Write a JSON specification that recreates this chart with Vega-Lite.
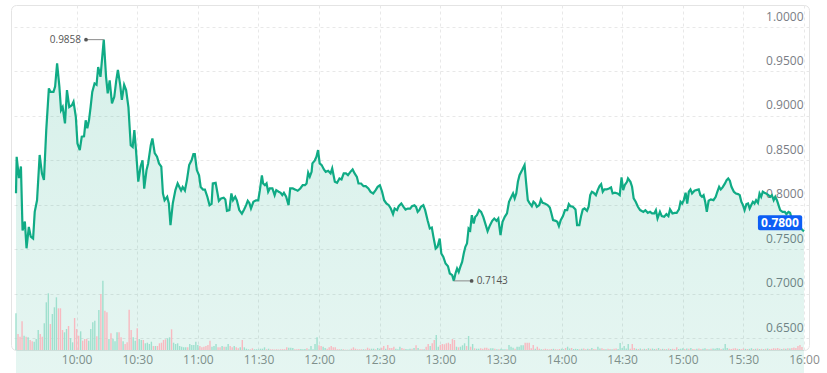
{
"$schema": "https://vega.github.io/schema/vega-lite/v6.json",
"width": 798, "height": 345,
"autosize": {"type": "none"},
"padding": {"left": 11, "top": 5, "right": 18, "bottom": 23},
"background": "white",
"config": {"font": "Open Sans", "view": {"stroke": "#e4e4e4", "cornerRadius": 5, "strokeWidth": 1}},
"datasets": {
"price": [
{"m":0,"p":0.813},{"m":0.33,"p":0.854},{"m":1.46,"p":0.830},{"m":2.44,"p":0.843},{"m":3.25,"p":0.771},{"m":4.39,"p":0.781},{"m":5.21,"p":0.751},{"m":6.34,"p":0.775},{"m":7.32,"p":0.764},{"m":8.46,"p":0.762},{"m":9.27,"p":0.792},{"m":10.41,"p":0.805},{"m":11.71,"p":0.856},{"m":12.85,"p":0.835},{"m":13.83,"p":0.828},{"m":14.97,"p":0.884},{"m":16.27,"p":0.931},{"m":17.08,"p":0.927},{"m":18.55,"p":0.927},{"m":19.36,"p":0.933},{"m":20.34,"p":0.959},{"m":21.47,"p":0.933},{"m":22.29,"p":0.9065},{"m":23.1,"p":0.910},{"m":24.24,"p":0.8915},{"m":25.22,"p":0.929},{"m":26.35,"p":0.910},{"m":27.66,"p":0.912},{"m":28.47,"p":0.916},{"m":29.61,"p":0.899},{"m":30.42,"p":0.869},{"m":31.56,"p":0.8615},{"m":32.54,"p":0.8765},{"m":33.68,"p":0.877},{"m":34.49,"p":0.895},{"m":35.3,"p":0.886},{"m":36.12,"p":0.895},{"m":36.93,"p":0.910},{"m":37.75,"p":0.927},{"m":38.88,"p":0.9365},{"m":39.86,"p":0.935},{"m":40.67,"p":0.955},{"m":41.81,"p":0.944},{"m":43.44,"p":0.9858},{"m":44.57,"p":0.944},{"m":45.39,"p":0.9253},{"m":46.36,"p":0.940},{"m":47.5,"p":0.914},{"m":48.64,"p":0.9215},{"m":49.62,"p":0.940},{"m":50.43,"p":0.9516},{"m":51.57,"p":0.935},{"m":52.38,"p":0.918},{"m":53.52,"p":0.935},{"m":54.5,"p":0.929},{"m":55.64,"p":0.910},{"m":56.78,"p":0.867},{"m":57.75,"p":0.865},{"m":58.57,"p":0.884},{"m":59.38,"p":0.8615},{"m":60.52,"p":0.826},{"m":61.66,"p":0.843},{"m":62.63,"p":0.850},{"m":63.45,"p":0.818},{"m":64.59,"p":0.839},{"m":65.4,"p":0.8465},{"m":66.7,"p":0.867},{"m":67.51,"p":0.8746},{"m":68.65,"p":0.858},{"m":69.79,"p":0.854},{"m":70.77,"p":0.8465},{"m":71.91,"p":0.843},{"m":72.72,"p":0.8127},{"m":73.53,"p":0.805},{"m":74.83,"p":0.809},{"m":75.65,"p":0.8015},{"m":76.46,"p":0.777},{"m":77.6,"p":0.8015},{"m":78.9,"p":0.8165},{"m":80.0,"p":0.824},
{"m":81.7,"p":0.816},{"m":82.5,"p":0.820},{"m":83.6,"p":0.816},{"m":84.6,"p":0.8277},{"m":85.7,"p":0.8446},{"m":86.9,"p":0.850},{"m":87.8,"p":0.857},{"m":88.5,"p":0.857},{"m":89.5,"p":0.839},{"m":90.6,"p":0.833},{"m":91.4,"p":0.820},{"m":92.6,"p":0.817},{"m":93.5,"p":0.817},{"m":94.7,"p":0.809},{"m":95.8,"p":0.7995},{"m":96.8,"p":0.801},{"m":97.4,"p":0.824},{"m":98.8,"p":0.8247},{"m":99.6,"p":0.8146},{"m":100.4,"p":0.8044},{"m":101.5,"p":0.807},{"m":102.8,"p":0.8078},{"m":103.6,"p":0.806},{"m":104.4,"p":0.7932},{"m":105.6,"p":0.794},{"m":106.6,"p":0.8127},{"m":107.4,"p":0.805},{"m":108.5,"p":0.809},{"m":109.3,"p":0.805},{"m":110.5,"p":0.794},{"m":111.8,"p":0.790},{"m":112.9,"p":0.7947},{"m":113.9,"p":0.7995},{"m":114.7,"p":0.8044},{"m":115.5,"p":0.802},{"m":116.3,"p":0.7958},{"m":117.5,"p":0.8033},{"m":118.8,"p":0.805},{"m":119.9,"p":0.805},{"m":120.7,"p":0.8164},{"m":121.7,"p":0.833},{"m":122.3,"p":0.824},{"m":123.2,"p":0.822},{"m":124.0,"p":0.824},{"m":124.8,"p":0.8146},{"m":125.6,"p":0.8183},{"m":126.9,"p":0.8183},{"m":128.0,"p":0.8108},{"m":128.8,"p":0.8164},{"m":130.0,"p":0.8146},{"m":131.0,"p":0.8134},{"m":131.8,"p":0.8108},{"m":132.6,"p":0.8134},{"m":133.7,"p":0.809},{"m":134.9,"p":0.7995},{"m":135.7,"p":0.8183},{"m":137.0,"p":0.8183},{"m":138.3,"p":0.817},{"m":139.4,"p":0.8157},{"m":140.7,"p":0.8183},{"m":141.9,"p":0.822},{"m":143.0,"p":0.822},{"m":143.8,"p":0.824},{"m":144.6,"p":0.836},{"m":145.4,"p":0.8315},{"m":146.3,"p":0.837},{"m":146.7,"p":0.8465},{"m":147.9,"p":0.850},{"m":148.7,"p":0.854},{"m":149.5,"p":0.8615},{"m":150.3,"p":0.8465},{"m":151.3,"p":0.8446},{"m":152.4,"p":0.8397},
{"m":153.3,"p":0.837},{"m":154.5,"p":0.8382},{"m":155.7,"p":0.8352},{"m":156.5,"p":0.8408},{"m":157.8,"p":0.8258},{"m":158.9,"p":0.8247},{"m":160.1,"p":0.8295},{"m":161.1,"p":0.8284},{"m":162.2,"p":0.8352},{"m":163.3,"p":0.8352},{"m":164.3,"p":0.8333},{"m":165.5,"p":0.837},{"m":166.6,"p":0.8397},{"m":167.6,"p":0.8352},{"m":168.7,"p":0.8314},{"m":169.5,"p":0.8239},{"m":170.8,"p":0.8239},{"m":172.0,"p":0.8209},{"m":173.1,"p":0.8209},{"m":174.4,"p":0.8183},{"m":175.5,"p":0.8145},{"m":176.8,"p":0.8127},{"m":178.0,"p":0.8164},{"m":179.0,"p":0.8201},{"m":180.1,"p":0.822},{"m":181.2,"p":0.8145},{"m":182.2,"p":0.8051},{"m":183.3,"p":0.8014},{"m":184.5,"p":0.7995},{"m":185.5,"p":0.7957},{"m":186.6,"p":0.7894},{"m":187.4,"p":0.7957},{"m":188.6,"p":0.7939},{"m":189.4,"p":0.7984},{"m":190.7,"p":0.8014},{"m":191.8,"p":0.7976},{"m":192.8,"p":0.7946},{"m":193.9,"p":0.7957},{"m":195.1,"p":0.7957},{"m":196.0,"p":0.7984},{"m":197.2,"p":0.7995},{"m":198.0,"p":0.7976},{"m":198.8,"p":0.792},{"m":199.6,"p":0.7939},{"m":200.4,"p":0.7976},{"m":201.6,"p":0.7995},{"m":202.5,"p":0.7939},{"m":203.7,"p":0.7826},{"m":204.8,"p":0.7732},{"m":205.8,"p":0.7743},{"m":206.6,"p":0.7638},{"m":207.7,"p":0.7507},{"m":208.6,"p":0.7526},{"m":209.7,"p":0.762},{"m":210.5,"p":0.7451},{"m":211.5,"p":0.7413},{"m":212.6,"p":0.7338},{"m":213.8,"p":0.7308},{"m":214.7,"p":0.7226},{"m":215.9,"p":0.7207},{"m":216.7,"p":0.7143},{"m":217.5,"p":0.7226},{"m":218.3,"p":0.7282},{"m":219.1,"p":0.7244},{"m":219.9,"p":0.7301},{"m":220.8,"p":0.7357},{"m":221.6,"p":0.7451},{"m":222.4,"p":0.7526},{"m":223.2,"p":0.7563},{"m":224.0,"p":0.7732},{"m":224.8,"p":0.7713},{"m":225.6,"p":0.7882},{"m":226.5,"p":0.7788},{"m":227.3,"p":0.7864},{"m":228.1,"p":0.7882},{"m":229.2,"p":0.7939},{"m":230.2,"p":0.792},{"m":231.3,"p":0.786},{"m":232.5,"p":0.777},{"m":233.4,"p":0.7703},{"m":234.6,"p":0.777},{"m":235.7,"p":0.7819},{"m":236.7,"p":0.7845},{"m":237.8,"p":0.7819},{"m":238.7,"p":0.7845},{"m":239.8,"p":0.7658},{"m":240.8,"p":0.7808},{"m":241.9,"p":0.7864},{"m":243.0,"p":0.7902},{"m":244.0,"p":0.8033},{"m":245.2,"p":0.809},{"m":246.0,"p":0.8127},{"m":246.8,"p":0.8071},{"m":247.6,"p":0.8127},{"m":248.4,"p":0.8258},{"m":249.2,"p":0.8333},{"m":250.5,"p":0.839},{"m":251.7,"p":0.8446},{"m":252.5,"p":0.824},{"m":253.3,"p":0.8052},{"m":254.1,"p":0.8022},{"m":255.3,"p":0.7984},{"m":256.1,"p":0.8033},{"m":257.0,"p":0.8014},{"m":257.8,"p":0.7977},{"m":259.0,"p":0.7996},{"m":259.8,"p":0.8059},{"m":260.6,"p":0.8022},{"m":261.7,"p":0.8014},{"m":263.1,"p":0.7996},{"m":264.2,"p":0.7969},{"m":265.0,"p":0.7902},{"m":265.8,"p":0.7827},{"m":267.1,"p":0.7819},{"m":267.9,"p":0.7808},{"m":268.7,"p":0.7759},{"m":269.6,"p":0.7827},{"m":270.7,"p":0.7872},{"m":271.7,"p":0.794},{"m":272.8,"p":0.794},{"m":273.6,"p":0.8007},{"m":274.4,"p":0.7984},{"m":275.6,"p":0.7977},{"m":276.9,"p":0.7947},{"m":277.7,"p":0.777},{"m":278.8,"p":0.777},{"m":279.6,"p":0.7864},{"m":280.5,"p":0.7947},{"m":281.4,"p":0.7958},{"m":282.6,"p":0.7932},{"m":283.4,"p":0.7977},{"m":284.2,"p":0.8108},{"m":285.0,"p":0.8146},{"m":285.8,"p":0.8135},{"m":287.0,"p":0.8108},{"m":287.9,"p":0.8165},{"m":288.8,"p":0.821},{"m":289.6,"p":0.8232},{"m":290.4,"p":0.8146},{"m":291.2,"p":0.8172},{"m":292.3,"p":0.8172},{"m":293.5,"p":0.8183},{"m":294.5,"p":0.8195},{"m":295.3,"p":0.8127},{"m":296.4,"p":0.8135},{"m":297.7,"p":0.8127},{"m":298.8,"p":0.8108},{"m":299.7,"p":0.8307},{"m":300.5,"p":0.8165},{"m":301.3,"p":0.8221},{"m":302.4,"p":0.8258},{"m":302.9,"p":0.8296},{"m":304.1,"p":0.8258},{"m":304.9,"p":0.8202},{"m":305.7,"p":0.8071},{"m":306.7,"p":0.8033},{"m":307.8,"p":0.7977},{"m":308.9,"p":0.794},
{"m":310.5,"p":0.792},{"m":311.5,"p":0.7939},{"m":312.7,"p":0.7909},{"m":313.8,"p":0.792},{"m":314.8,"p":0.7902},{"m":315.9,"p":0.7902},{"m":316.7,"p":0.7939},{"m":317.5,"p":0.7845},{"m":318.7,"p":0.792},{"m":319.6,"p":0.7872},{"m":320.8,"p":0.7864},{"m":321.9,"p":0.7894},{"m":322.9,"p":0.7872},{"m":323.7,"p":0.7947},{"m":324.9,"p":0.7902},{"m":326.0,"p":0.7909},{"m":327.0,"p":0.7909},{"m":328.1,"p":0.7947},{"m":328.9,"p":0.8033},{"m":329.7,"p":0.8014},{"m":330.5,"p":0.8052},{"m":331.4,"p":0.8135},{"m":332.2,"p":0.8014},{"m":333.0,"p":0.8146},{"m":333.8,"p":0.8172},{"m":334.6,"p":0.8127},{"m":335.8,"p":0.8157},{"m":336.7,"p":0.8165},{"m":337.9,"p":0.8172},{"m":338.7,"p":0.8108},{"m":339.5,"p":0.809},{"m":340.3,"p":0.8108},{"m":341.1,"p":0.8033},{"m":341.9,"p":0.792},{"m":342.8,"p":0.8045},{"m":343.9,"p":0.806},{"m":345.2,"p":0.8052},{"m":346.3,"p":0.809},{"m":347.1,"p":0.8146},{"m":348.0,"p":0.8202},{"m":348.8,"p":0.8172},{"m":349.7,"p":0.8195},{"m":350.9,"p":0.824},{"m":351.7,"p":0.8277},{"m":352.5,"p":0.8296},{"m":353.3,"p":0.827},{"m":354.1,"p":0.8202},{"m":355.3,"p":0.8146},{"m":356.3,"p":0.8127},{"m":357.4,"p":0.812},{"m":358.2,"p":0.8108},{"m":359.0,"p":0.8033},{"m":359.8,"p":0.7996},{"m":360.6,"p":0.7939},{"m":361.5,"p":0.8007},{"m":362.3,"p":0.8014},{"m":363.1,"p":0.7958},{"m":363.9,"p":0.7996},{"m":364.7,"p":0.8033},{"m":365.5,"p":0.8014},{"m":366.3,"p":0.8052},{"m":367.2,"p":0.8022},{"m":368.0,"p":0.8127},{"m":368.8,"p":0.809},{"m":369.6,"p":0.8146},{"m":370.4,"p":0.8135},{"m":371.2,"p":0.8127},{"m":372.4,"p":0.8108},{"m":373.3,"p":0.809},{"m":374.1,"p":0.8108},{"m":375.0,"p":0.8052},{"m":375.8,"p":0.809},{"m":376.6,"p":0.8052},{"m":377.4,"p":0.7996},{"m":378.2,"p":0.7939},{"m":379.4,"p":0.792},{"m":380.5,"p":0.792},{"m":381.3,"p":0.7894},{"m":382.3,"p":0.792},{"m":383.1,"p":0.7909},{"m":383.9,"p":0.7845},{"m":385.0,"p":0.782},{"m":386.5,"p":0.779},{"m":388.0,"p":0.775},{"m":389.0,"p":0.772},{"m":390.0,"p":0.770}
],
"volume": [
{"m":0,"v":367,"d":"up"},{"m":1,"v":160,"d":"down"},{"m":2,"v":133,"d":"down"},{"m":3,"v":287,"d":"down"},{"m":4,"v":143,"d":"up"},{"m":5,"v":133,"d":"down"},{"m":6,"v":127,"d":"up"},{"m":7,"v":100,"d":"down"},{"m":8,"v":87,"d":"down"},{"m":9,"v":83,"d":"up"},{"m":10,"v":110,"d":"up"},{"m":11,"v":200,"d":"up"},{"m":12,"v":160,"d":"down"},{"m":13,"v":133,"d":"down"},{"m":14,"v":267,"d":"up"},{"m":15,"v":477,"d":"up"},{"m":16,"v":567,"d":"up"},{"m":17,"v":260,"d":"down"},{"m":18,"v":360,"d":"up"},{"m":19,"v":427,"d":"up"},{"m":20,"v":527,"d":"up"},{"m":21,"v":417,"d":"down"},{"m":22,"v":417,"d":"down"},{"m":23,"v":200,"d":"down"},{"m":24,"v":177,"d":"up"},{"m":25,"v":210,"d":"up"},{"m":26,"v":240,"d":"down"},{"m":27,"v":120,"d":"up"},{"m":28,"v":77,"d":"up"},{"m":29,"v":320,"d":"down"},{"m":30,"v":210,"d":"down"},{"m":31,"v":143,"d":"down"},{"m":32,"v":187,"d":"up"},{"m":33,"v":93,"d":"down"},{"m":34,"v":110,"d":"down"},{"m":35,"v":110,"d":"down"},{"m":36,"v":93,"d":"up"},{"m":37,"v":210,"d":"up"},{"m":38,"v":277,"d":"up"},{"m":39,"v":293,"d":"up"},{"m":40,"v":137,"d":"down"},{"m":41,"v":400,"d":"up"},{"m":42,"v":560,"d":"down"},{"m":43,"v":693,"d":"up"},{"m":44,"v":393,"d":"down"},{"m":45,"v":377,"d":"down"},{"m":46,"v":110,"d":"up"},{"m":47,"v":167,"d":"down"},{"m":48,"v":110,"d":"up"},{"m":49,"v":87,"d":"up"},{"m":50,"v":177,"d":"up"},{"m":51,"v":177,"d":"down"},{"m":52,"v":127,"d":"down"},{"m":53,"v":87,"d":"up"},{"m":54,"v":60,"d":"down"},{"m":55,"v":77,"d":"down"},{"m":56,"v":403,"d":"down"},{"m":57,"v":200,"d":"down"},{"m":58,"v":127,"d":"up"},{"m":59,"v":93,"d":"up"},{"m":60,"v":217,"d":"down"},{"m":61,"v":110,"d":"up"},{"m":62,"v":100,"d":"up"},{"m":63,"v":100,"d":"down"},{"m":64,"v":67,"d":"up"},{"m":65,"v":73,"d":"up"},{"m":66,"v":60,"d":"up"},{"m":67,"v":83,"d":"up"},{"m":68,"v":40,"d":"down"},{"m":69,"v":40,"d":"up"},{"m":70,"v":40,"d":"down"},{"m":71,"v":67,"d":"down"},{"m":72,"v":73,"d":"down"},{"m":73,"v":100,"d":"down"},{"m":74,"v":107,"d":"down"},{"m":75,"v":117,"d":"up"},{"m":76,"v":127,"d":"up"},{"m":77,"v":207,"d":"down"},{"m":78,"v":73,"d":"up"},{"m":79,"v":60,"d":"up"},{"m":80,"v":67,"d":"up"},{"m":81,"v":40,"d":"up"},{"m":82,"v":33,"d":"up"},{"m":83,"v":27,"d":"up"},{"m":84,"v":27,"d":"up"},{"m":85,"v":27,"d":"down"},{"m":86,"v":60,"d":"up"},{"m":87,"v":50,"d":"up"},{"m":88,"v":50,"d":"up"},{"m":89,"v":83,"d":"up"},{"m":90,"v":50,"d":"up"},{"m":91,"v":40,"d":"down"},{"m":92,"v":27,"d":"down"},{"m":93,"v":33,"d":"down"},{"m":94,"v":40,"d":"down"},{"m":95,"v":50,"d":"down"},{"m":96,"v":93,"d":"down"},{"m":97,"v":33,"d":"up"},{"m":98,"v":40,"d":"up"},{"m":99,"v":60,"d":"up"},{"m":100,"v":27,"d":"down"},{"m":101,"v":27,"d":"down"},{"m":102,"v":40,"d":"up"},{"m":103,"v":33,"d":"down"},{"m":104,"v":33,"d":"up"},{"m":105,"v":60,"d":"up"},{"m":106,"v":40,"d":"down"},{"m":107,"v":27,"d":"down"},{"m":108,"v":40,"d":"up"},{"m":109,"v":27,"d":"down"},{"m":110,"v":17,"d":"down"},{"m":111,"v":27,"d":"up"},{"m":112,"v":100,"d":"down"},{"m":113,"v":27,"d":"up"},{"m":114,"v":13,"d":"up"},{"m":115,"v":7,"d":"up"},{"m":116,"v":7,"d":"down"},{"m":117,"v":17,"d":"down"},{"m":118,"v":7,"d":"up"},{"m":119,"v":7,"d":"up"},{"m":120,"v":7,"d":"up"},{"m":121,"v":13,"d":"up"},{"m":122,"v":13,"d":"up"},{"m":123,"v":27,"d":"up"},{"m":124,"v":7,"d":"down"},{"m":125,"v":13,"d":"up"},{"m":126,"v":7,"d":"down"},{"m":127,"v":7,"d":"down"},{"m":128,"v":5,"d":"down"},{"m":129,"v":7,"d":"down"},{"m":130,"v":5,"d":"down"},{"m":131,"v":7,"d":"down"},{"m":132,"v":7,"d":"down"},{"m":133,"v":7,"d":"down"},{"m":134,"v":27,"d":"down"},{"m":135,"v":23,"d":"up"},{"m":136,"v":23,"d":"up"},{"m":137,"v":20,"d":"up"},{"m":138,"v":7,"d":"down"},{"m":139,"v":7,"d":"down"},{"m":140,"v":10,"d":"down"},{"m":141,"v":10,"d":"up"},{"m":142,"v":7,"d":"up"},{"m":143,"v":10,"d":"up"},{"m":144,"v":17,"d":"down"},{"m":145,"v":7,"d":"up"},{"m":146,"v":40,"d":"up"},{"m":147,"v":7,"d":"up"},{"m":148,"v":60,"d":"up"},{"m":149,"v":127,"d":"up"},{"m":150,"v":47,"d":"down"},{"m":151,"v":40,"d":"down"},{"m":152,"v":33,"d":"up"},{"m":153,"v":20,"d":"up"},{"m":154,"v":13,"d":"down"},{"m":155,"v":27,"d":"down"},{"m":156,"v":40,"d":"down"},{"m":157,"v":27,"d":"down"},{"m":158,"v":27,"d":"down"},{"m":159,"v":7,"d":"down"},{"m":160,"v":7,"d":"down"},{"m":161,"v":7,"d":"up"},{"m":162,"v":7,"d":"down"},{"m":163,"v":3,"d":"down"},{"m":164,"v":3,"d":"down"},{"m":165,"v":3,"d":"up"},{"m":166,"v":13,"d":"down"},{"m":167,"v":27,"d":"down"},{"m":168,"v":13,"d":"down"},{"m":169,"v":7,"d":"down"},{"m":170,"v":7,"d":"down"},{"m":171,"v":7,"d":"down"},{"m":172,"v":7,"d":"up"},{"m":173,"v":7,"d":"down"},{"m":174,"v":23,"d":"down"},{"m":175,"v":13,"d":"down"},{"m":176,"v":13,"d":"up"},{"m":177,"v":13,"d":"up"},{"m":178,"v":7,"d":"down"},{"m":179,"v":20,"d":"up"},{"m":180,"v":13,"d":"up"},{"m":181,"v":23,"d":"down"},{"m":182,"v":40,"d":"down"},{"m":183,"v":13,"d":"up"},{"m":184,"v":50,"d":"down"},{"m":185,"v":20,"d":"down"},{"m":186,"v":20,"d":"down"},{"m":187,"v":33,"d":"down"},{"m":188,"v":13,"d":"up"},{"m":189,"v":7,"d":"up"},{"m":190,"v":33,"d":"up"},{"m":191,"v":20,"d":"down"},{"m":192,"v":13,"d":"down"},{"m":193,"v":10,"d":"up"},{"m":194,"v":7,"d":"up"},{"m":195,"v":13,"d":"up"},{"m":196,"v":13,"d":"down"},{"m":197,"v":20,"d":"up"},{"m":198,"v":47,"d":"down"},{"m":199,"v":20,"d":"up"},{"m":200,"v":7,"d":"down"},{"m":201,"v":7,"d":"down"},{"m":202,"v":7,"d":"up"},{"m":203,"v":33,"d":"down"},{"m":204,"v":60,"d":"down"},{"m":205,"v":40,"d":"up"},{"m":206,"v":67,"d":"down"},{"m":207,"v":100,"d":"down"},{"m":208,"v":150,"d":"up"},{"m":209,"v":33,"d":"up"},{"m":210,"v":50,"d":"down"},{"m":211,"v":60,"d":"down"},{"m":212,"v":57,"d":"down"},{"m":213,"v":67,"d":"down"},{"m":214,"v":73,"d":"down"},{"m":215,"v":60,"d":"down"},{"m":216,"v":110,"d":"down"},{"m":217,"v":100,"d":"down"},{"m":218,"v":33,"d":"up"},{"m":219,"v":27,"d":"down"},{"m":220,"v":33,"d":"up"},{"m":221,"v":47,"d":"up"},{"m":222,"v":67,"d":"up"},{"m":223,"v":40,"d":"down"},{"m":224,"v":140,"d":"up"},{"m":225,"v":33,"d":"down"},{"m":226,"v":60,"d":"up"},{"m":227,"v":17,"d":"down"},{"m":228,"v":13,"d":"up"},{"m":229,"v":13,"d":"up"},{"m":230,"v":17,"d":"down"},{"m":231,"v":13,"d":"down"},{"m":232,"v":23,"d":"down"},{"m":233,"v":23,"d":"down"},{"m":234,"v":13,"d":"down"},{"m":235,"v":17,"d":"up"},{"m":236,"v":17,"d":"up"},{"m":237,"v":13,"d":"down"},{"m":238,"v":7,"d":"up"},{"m":239,"v":7,"d":"down"},{"m":240,"v":13,"d":"up"},{"m":241,"v":7,"d":"up"},{"m":242,"v":7,"d":"up"},{"m":243,"v":7,"d":"down"},{"m":244,"v":50,"d":"up"},{"m":245,"v":33,"d":"up"},{"m":246,"v":23,"d":"up"},{"m":247,"v":13,"d":"down"},{"m":248,"v":33,"d":"up"},{"m":249,"v":33,"d":"up"},{"m":250,"v":47,"d":"up"},{"m":251,"v":47,"d":"up"},{"m":252,"v":73,"d":"down"},{"m":253,"v":73,"d":"down"},{"m":254,"v":73,"d":"down"},{"m":255,"v":17,"d":"down"},{"m":256,"v":50,"d":"down"},{"m":257,"v":13,"d":"up"},{"m":258,"v":33,"d":"down"},{"m":259,"v":13,"d":"down"},{"m":260,"v":7,"d":"up"},{"m":261,"v":7,"d":"down"},{"m":262,"v":13,"d":"down"},{"m":263,"v":8,"d":"down"},{"m":264,"v":6,"d":"down"},{"m":265,"v":10,"d":"down"},{"m":266,"v":12,"d":"up"},{"m":267,"v":8,"d":"down"},{"m":268,"v":6,"d":"down"},{"m":269,"v":10,"d":"down"},{"m":270,"v":13,"d":"up"},{"m":271,"v":8,"d":"up"},{"m":272,"v":20,"d":"down"},{"m":273,"v":33,"d":"up"},{"m":274,"v":15,"d":"up"},{"m":275,"v":20,"d":"down"},{"m":276,"v":10,"d":"up"},{"m":277,"v":12,"d":"up"},{"m":278,"v":10,"d":"up"},{"m":279,"v":8,"d":"down"},{"m":280,"v":12,"d":"up"},{"m":281,"v":15,"d":"down"},{"m":282,"v":8,"d":"down"},{"m":283,"v":12,"d":"up"},{"m":284,"v":10,"d":"down"},{"m":285,"v":20,"d":"up"},{"m":286,"v":10,"d":"down"},{"m":287,"v":8,"d":"down"},{"m":288,"v":33,"d":"up"},{"m":289,"v":15,"d":"up"},{"m":290,"v":17,"d":"down"},{"m":291,"v":10,"d":"down"},{"m":292,"v":8,"d":"up"},{"m":293,"v":12,"d":"down"},{"m":294,"v":10,"d":"down"},{"m":295,"v":8,"d":"up"},{"m":296,"v":12,"d":"down"},{"m":297,"v":15,"d":"down"},{"m":298,"v":10,"d":"up"},{"m":299,"v":70,"d":"up"},{"m":300,"v":20,"d":"up"},{"m":301,"v":40,"d":"up"},{"m":302,"v":15,"d":"up"},{"m":303,"v":60,"d":"up"},{"m":304,"v":13,"d":"down"},{"m":305,"v":60,"d":"down"},{"m":306,"v":20,"d":"down"},{"m":307,"v":12,"d":"up"},{"m":308,"v":10,"d":"down"},{"m":309,"v":15,"d":"up"},{"m":310,"v":8,"d":"down"},{"m":311,"v":12,"d":"up"},{"m":312,"v":10,"d":"down"},{"m":313,"v":18,"d":"up"},{"m":314,"v":12,"d":"down"},{"m":315,"v":15,"d":"up"},{"m":316,"v":10,"d":"up"},{"m":317,"v":12,"d":"down"},{"m":318,"v":20,"d":"up"},{"m":319,"v":8,"d":"down"},{"m":320,"v":12,"d":"up"},{"m":321,"v":10,"d":"down"},{"m":322,"v":8,"d":"up"},{"m":323,"v":15,"d":"down"},{"m":324,"v":10,"d":"up"},{"m":325,"v":12,"d":"down"},{"m":326,"v":8,"d":"down"},{"m":327,"v":27,"d":"down"},{"m":328,"v":10,"d":"up"},{"m":329,"v":12,"d":"up"},{"m":330,"v":18,"d":"up"},{"m":331,"v":10,"d":"down"},{"m":332,"v":15,"d":"up"},{"m":333,"v":12,"d":"down"},{"m":334,"v":20,"d":"up"},{"m":335,"v":10,"d":"down"},{"m":336,"v":8,"d":"down"},{"m":337,"v":12,"d":"up"},{"m":338,"v":15,"d":"down"},{"m":339,"v":10,"d":"down"},{"m":340,"v":12,"d":"up"},{"m":341,"v":18,"d":"up"},{"m":342,"v":10,"d":"down"},{"m":343,"v":8,"d":"up"},{"m":344,"v":12,"d":"down"},{"m":345,"v":15,"d":"up"},{"m":346,"v":12,"d":"up"},{"m":347,"v":20,"d":"up"},{"m":348,"v":18,"d":"up"},{"m":349,"v":10,"d":"down"},{"m":350,"v":15,"d":"up"},{"m":351,"v":60,"d":"up"},{"m":352,"v":20,"d":"up"},{"m":353,"v":12,"d":"down"},{"m":354,"v":10,"d":"down"},{"m":355,"v":15,"d":"down"},{"m":356,"v":18,"d":"down"},{"m":357,"v":12,"d":"down"},{"m":358,"v":10,"d":"up"},{"m":359,"v":8,"d":"down"},{"m":360,"v":15,"d":"down"},{"m":361,"v":12,"d":"up"},{"m":362,"v":10,"d":"down"},{"m":363,"v":12,"d":"up"},{"m":364,"v":18,"d":"up"},{"m":365,"v":10,"d":"down"},{"m":366,"v":12,"d":"up"},{"m":367,"v":15,"d":"down"},{"m":368,"v":10,"d":"up"},{"m":369,"v":12,"d":"down"},{"m":370,"v":8,"d":"up"},{"m":371,"v":12,"d":"down"},{"m":372,"v":15,"d":"up"},{"m":373,"v":10,"d":"down"},{"m":374,"v":12,"d":"down"},{"m":375,"v":18,"d":"down"},{"m":376,"v":15,"d":"down"},{"m":377,"v":20,"d":"down"},{"m":378,"v":12,"d":"down"},{"m":379,"v":10,"d":"up"},{"m":380,"v":15,"d":"down"},{"m":381,"v":12,"d":"up"},{"m":382,"v":18,"d":"down"},{"m":383,"v":15,"d":"up"},{"m":384,"v":20,"d":"down"},{"m":385,"v":25,"d":"down"},{"m":386,"v":20,"d":"down"},{"m":387,"v":40,"d":"down"},{"m":388,"v":50,"d":"down"},{"m":389,"v":30,"d":"down"}
],
"links": [{"m":43.44,"m2":34.65,"p":0.9858},{"m":216.7,"m2":225.5,"p":0.7143}],
"marks": [{"m":34.65,"p":0.9858,"side":"left"},{"m":225.5,"p":0.7143,"side":"right"}],
"badge": [{"m":367.2,"m2":389.1,"p":0.7883,"p2":0.7714}],
"last": [{"m":378.1,"p":0.78}]
},
"encoding": {
"x": {"field": "m", "type": "quantitative", "title": null,
"scale": {"domain": [0, 390], "nice": false, "zero": false},
"axis": {"title": null, "values": [30,60,90,120,150,180,210,240,270,300,330,360,390],
"labelExpr": "timeFormat(datetime(2000,0,1,9,30+datum.value),'%H:%M')",
"grid": true, "gridColor": "#e8e8e8", "gridDash": [3,3], "domain": false, "ticks": false, "tickSize": 0,
"labelColor": "#8c8c8c", "labelFontSize": 12, "labelPadding": 4, "labelFlush": true, "labelOverlap": false}}
},
"layer": [
{"data": {"name": "price"},
"mark": {"type": "area", "color": {"gradient": "linear", "x1": 0, "y1": 0, "x2": 0, "y2": 1, "stops": [{"offset": 0, "color": "rgba(18,168,130,0.17)"}, {"offset": 0.5, "color": "rgba(18,168,130,0.09)"}, {"offset": 1, "color": "rgba(18,168,130,0.015)"}]}},
"encoding": {"y": {"field": "p", "type": "quantitative", "title": null,
"scale": {"domain": [0.6365, 1.0248], "nice": false, "zero": false},
"axis": {"title": null, "orient": "right", "values": [0.65,0.7,0.75,0.8,0.85,0.9,0.95,1.0], "format": ".4f",
"grid": true, "gridColor": "#e8e8e8", "gridDash": [3,3], "domain": false, "ticks": false, "tickSize": 0,
"labelAlign": "right", "labelPadding": -6, "labelBaseline": "middle", "labelOffset": -11,
"labelColor": "#7a7d85", "labelFontSize": 12, "labelOverlap": false, "labelBound": false, "labelFlush": false}}}},
{"data": {"name": "volume"},
"mark": {"type": "bar", "width": 1.4},
"encoding": {"y": {"field": "v", "type": "quantitative", "scale": {"domain": [0, 3450]}, "axis": null},
"color": {"field": "d", "type": "nominal", "scale": {"domain": ["up", "down"], "range": ["#9fe0ce", "#f8b9c0"]}, "legend": null}}},
{"encoding": {"y": {"field": "p", "type": "quantitative", "title": null, "scale": {"domain": [0.6365, 1.0248], "nice": false, "zero": false}, "axis": null}},
"layer": [
{"data": {"name": "price"}, "mark": {"type": "line", "color": "#10ab85", "strokeWidth": 2.2}},
{"data": {"name": "links"}, "mark": {"type": "rule", "color": "#8a8a8a", "strokeWidth": 1}, "encoding": {"x2": {"field": "m2"}}},
{"data": {"name": "marks"}, "mark": {"type": "point", "filled": true, "color": "#555555", "size": 14, "opacity": 1}},
{"data": {"name": "marks"}, "transform": [{"filter": "datum.side == 'left'"}], "mark": {"type": "text", "align": "right", "dx": -5, "fontSize": 10, "color": "#555555"}, "encoding": {"text": {"field": "p", "format": ".4f"}}},
{"data": {"name": "marks"}, "transform": [{"filter": "datum.side == 'right'"}], "mark": {"type": "text", "align": "left", "dx": 5, "fontSize": 10, "color": "#555555"}, "encoding": {"text": {"field": "p", "format": ".4f"}}},
{"data": {"name": "badge"}, "mark": {"type": "rect", "color": "#0d5ef5", "cornerRadius": 2}, "encoding": {"x2": {"field": "m2"}, "y2": {"field": "p2"}}},
{"data": {"name": "last"}, "mark": {"type": "text", "color": "white", "fontSize": 12, "fontWeight": "bold"}, "encoding": {"text": {"field": "p", "format": ".4f"}}}
]}
],
"resolve": {"scale": {"y": "independent"}}
}
